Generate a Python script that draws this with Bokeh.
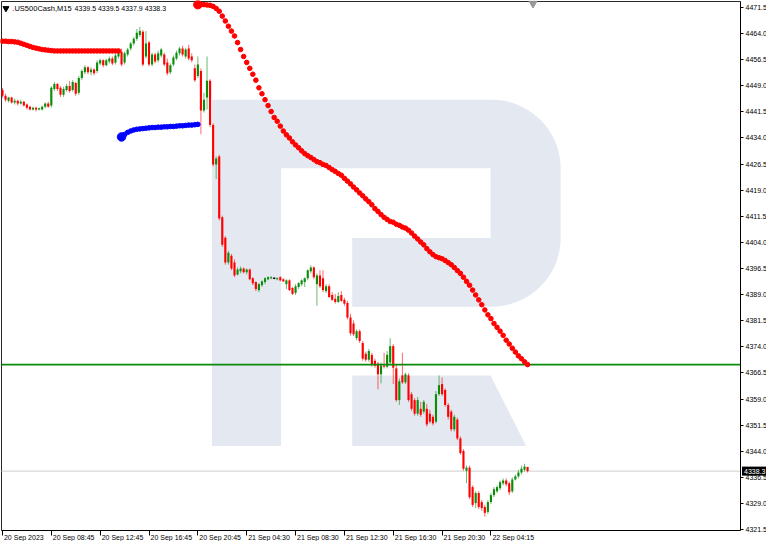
import math
from bokeh.plotting import figure
from bokeh.models import ColumnDataSource, FixedTicker, NumeralTickFormatter, Label
from bokeh.embed import file_html
from bokeh.resources import INLINE

# ---------------- data ----------------
symbol = ".US500Cash,M15"
header_values = "4339.5 4339.5 4337.9 4338.3"

time_labels = ["20 Sep 2023", "20 Sep 08:45", "20 Sep 12:45", "20 Sep 16:45", "20 Sep 20:45",
               "21 Sep 04:30", "21 Sep 08:30", "21 Sep 12:30", "21 Sep 16:30", "21 Sep 20:30",
               "22 Sep 04:15"]
time_label_bars = [0, 16, 32, 48, 64, 80, 96, 112, 128, 144, 160]

price_ticks = [4321.5, 4329.0, 4336.5, 4344.0, 4351.5, 4359.0, 4366.5, 4374.0, 4381.5, 4389.0,
               4396.5, 4404.0, 4411.5, 4419.0, 4426.5, 4434.0, 4441.5, 4449.0, 4456.5, 4464.0,
               4471.5]

opens = [
    4447.8, 4446.1, 4444.7, 4445.6, 4444.2, 4444.7, 4443.9, 4444.4, 4443.6, 4443.0,
    4442.2, 4442.7, 4442.2, 4442.2, 4443.0, 4443.9, 4443.3, 4448.1, 4449.5, 4448.4,
    4446.4, 4447.8, 4448.9, 4447.8, 4449.8, 4447.0, 4451.2, 4452.9, 4454.3, 4452.9,
    4453.7, 4453.2, 4455.4, 4456.3, 4454.9, 4456.0, 4456.8, 4455.7, 4457.4, 4458.8,
    4455.7, 4458.0, 4459.7, 4461.1, 4462.5, 4463.6, 4464.5, 4457.4, 4461.4, 4455.1,
    4458.0, 4456.3, 4457.7, 4458.0, 4455.7, 4452.9, 4455.1, 4456.8, 4458.3, 4459.7,
    4457.4, 4459.7, 4457.4, 4454.0, 4451.8, 4453.2, 4441.9, 4445.6, 4450.4, 4437.7,
    4426.4, 4428.7, 4411.2, 4405.3, 4398.2, 4400.2, 4398.2, 4394.8, 4395.7, 4396.5,
    4395.4, 4396.2, 4393.7, 4392.6, 4390.3, 4391.7, 4392.6, 4393.4, 4393.7, 4393.7,
    4393.4, 4394.0, 4393.4, 4392.0, 4393.1, 4390.9, 4389.5, 4391.2, 4392.0, 4392.6,
    4393.7, 4395.7, 4396.8, 4392.0, 4394.5, 4393.7, 4390.0, 4391.4, 4388.9, 4387.8,
    4386.9, 4388.9, 4387.5, 4386.6, 4382.4, 4380.7, 4376.5, 4378.5, 4375.1, 4372.0,
    4370.3, 4371.7, 4370.0, 4369.2, 4366.1, 4368.6, 4368.3, 4369.5, 4374.2, 4367.8,
    4358.7, 4365.8, 4363.8, 4365.8, 4360.4, 4358.7, 4354.8, 4356.2, 4355.4, 4356.2,
    4354.8, 4353.9, 4352.5, 4360.4, 4363.3, 4361.6, 4357.3, 4355.4, 4350.3, 4353.1,
    4347.7, 4344.1, 4338.4, 4339.3, 4333.7, 4329.1, 4332.0, 4329.4, 4328.0, 4326.6,
    4329.4, 4331.4, 4332.5, 4333.4, 4334.8, 4335.6, 4334.8, 4332.5, 4335.9, 4336.8,
    4337.9, 4338.7, 4339.5]

highs = [
    4448.4, 4446.7, 4445.8, 4445.8, 4445.3, 4445.0, 4445.0, 4444.7, 4443.9, 4443.3,
    4443.0, 4443.0, 4442.7, 4443.3, 4444.2, 4444.4, 4448.9, 4450.1, 4449.8, 4448.9,
    4448.7, 4449.5, 4450.4, 4450.6, 4450.1, 4451.8, 4453.7, 4454.9, 4454.6, 4454.3,
    4454.0, 4456.3, 4456.8, 4456.6, 4456.8, 4457.4, 4457.4, 4458.3, 4459.4, 4459.7,
    4458.8, 4459.9, 4461.6, 4463.0, 4465.3, 4465.9, 4465.0, 4464.7, 4461.9, 4458.5,
    4458.5, 4459.1, 4459.9, 4458.5, 4456.8, 4455.4, 4457.7, 4459.1, 4460.2, 4460.5,
    4459.9, 4460.8, 4458.3, 4455.1, 4457.4, 4454.0, 4447.0, 4457.4, 4450.9, 4438.2,
    4428.7, 4429.2, 4411.7, 4405.8, 4401.6, 4400.7, 4399.1, 4396.8, 4397.1, 4396.8,
    4396.5, 4396.5, 4394.0, 4392.8, 4392.3, 4393.1, 4394.0, 4394.3, 4394.3, 4394.0,
    4394.0, 4394.3, 4393.7, 4393.4, 4393.4, 4391.2, 4392.0, 4392.6, 4393.4, 4394.0,
    4396.2, 4397.4, 4397.1, 4395.1, 4396.0, 4396.0, 4392.0, 4392.0, 4389.7, 4389.2,
    4389.7, 4390.0, 4388.1, 4387.2, 4383.5, 4381.6, 4379.0, 4379.0, 4375.7, 4372.6,
    4373.4, 4372.3, 4370.6, 4369.7, 4369.5, 4372.3, 4372.8, 4376.5, 4374.8, 4368.9,
    4364.9, 4372.3, 4366.6, 4366.4, 4361.0, 4359.3, 4359.6, 4358.2, 4358.7, 4357.6,
    4355.9, 4354.5, 4361.3, 4365.8, 4365.2, 4362.1, 4357.9, 4355.9, 4354.5, 4353.7,
    4348.3, 4344.6, 4339.9, 4339.9, 4334.2, 4332.5, 4332.5, 4330.0, 4328.6, 4330.0,
    4332.0, 4333.7, 4334.2, 4335.6, 4336.2, 4336.2, 4335.3, 4336.5, 4337.3, 4338.7,
    4339.9, 4340.4, 4339.5]

lows = [
    4445.6, 4444.4, 4444.2, 4443.9, 4443.6, 4443.3, 4443.6, 4443.0, 4442.2, 4441.9,
    4441.9, 4441.6, 4441.9, 4441.9, 4442.5, 4442.7, 4442.7, 4447.5, 4447.5, 4445.8,
    4445.8, 4447.3, 4447.0, 4447.3, 4446.1, 4446.4, 4450.6, 4452.3, 4452.3, 4452.0,
    4452.0, 4452.6, 4454.9, 4454.3, 4454.6, 4455.4, 4454.9, 4455.1, 4456.8, 4454.6,
    4455.1, 4457.4, 4459.1, 4460.5, 4461.9, 4463.0, 4454.6, 4456.8, 4454.6, 4454.6,
    4455.4, 4455.7, 4457.1, 4454.6, 4452.0, 4452.3, 4454.6, 4456.3, 4457.7, 4457.4,
    4456.8, 4456.3, 4455.7, 4450.1, 4451.2, 4435.1, 4441.3, 4442.2, 4437.1, 4425.8,
    4422.2, 4410.3, 4402.7, 4397.6, 4397.6, 4396.0, 4394.0, 4394.5, 4395.1, 4395.1,
    4394.8, 4393.1, 4391.7, 4390.0, 4389.7, 4391.2, 4392.0, 4393.1, 4393.4, 4393.4,
    4393.1, 4392.8, 4392.6, 4390.6, 4390.0, 4388.9, 4388.9, 4390.6, 4391.4, 4391.2,
    4393.1, 4395.1, 4393.4, 4385.8, 4390.9, 4389.7, 4389.5, 4388.1, 4387.2, 4386.4,
    4386.6, 4386.9, 4385.8, 4381.9, 4377.3, 4377.1, 4375.9, 4375.1, 4370.0, 4369.7,
    4369.7, 4368.3, 4368.0, 4361.8, 4363.5, 4367.8, 4367.8, 4368.6, 4363.3, 4358.2,
    4357.3, 4363.3, 4363.3, 4358.2, 4355.6, 4354.2, 4354.2, 4353.9, 4354.8, 4351.1,
    4352.0, 4351.4, 4352.0, 4359.9, 4359.9, 4356.8, 4353.1, 4349.7, 4349.7, 4347.2,
    4343.0, 4338.4, 4334.8, 4330.3, 4328.0, 4327.7, 4327.4, 4326.9, 4325.2, 4326.0,
    4328.9, 4330.8, 4332.0, 4332.8, 4334.2, 4333.9, 4331.4, 4332.0, 4335.6, 4336.2,
    4337.3, 4338.2, 4337.9]

closes = [
    4446.1, 4445.0, 4445.6, 4444.2, 4444.7, 4443.9, 4444.4, 4443.3, 4442.7, 4442.2,
    4442.7, 4442.2, 4442.5, 4443.0, 4443.9, 4443.0, 4448.4, 4449.5, 4448.1, 4446.4,
    4448.1, 4448.9, 4447.5, 4450.1, 4446.7, 4451.2, 4453.2, 4454.3, 4452.9, 4453.7,
    4452.6, 4455.7, 4456.3, 4454.9, 4456.3, 4456.8, 4455.4, 4457.7, 4458.8, 4455.1,
    4458.3, 4459.4, 4461.1, 4462.5, 4464.2, 4464.7, 4455.1, 4461.1, 4455.1, 4458.0,
    4456.0, 4458.3, 4459.4, 4455.1, 4452.6, 4454.9, 4457.1, 4458.5, 4459.7, 4458.0,
    4459.4, 4456.8, 4456.3, 4450.6, 4455.1, 4441.9, 4445.0, 4450.4, 4437.7, 4426.4,
    4428.1, 4410.9, 4403.3, 4398.2, 4401.0, 4396.5, 4394.5, 4396.2, 4396.5, 4395.4,
    4396.2, 4393.4, 4392.3, 4390.6, 4392.0, 4392.8, 4393.7, 4394.0, 4394.0, 4393.7,
    4393.7, 4393.1, 4392.8, 4393.1, 4390.3, 4389.2, 4391.4, 4392.3, 4393.1, 4393.7,
    4396.0, 4396.8, 4394.0, 4394.5, 4391.4, 4390.3, 4391.4, 4388.3, 4387.5, 4386.9,
    4388.6, 4387.2, 4386.4, 4382.4, 4377.9, 4377.6, 4378.5, 4375.7, 4370.6, 4370.3,
    4372.8, 4368.9, 4368.6, 4366.1, 4368.6, 4368.3, 4371.7, 4374.2, 4368.0, 4358.7,
    4364.1, 4363.8, 4366.1, 4358.7, 4356.2, 4354.8, 4358.7, 4354.5, 4358.2, 4351.7,
    4352.5, 4352.0, 4360.4, 4363.0, 4360.4, 4357.3, 4353.9, 4350.3, 4353.9, 4347.7,
    4343.5, 4339.0, 4339.3, 4330.8, 4328.6, 4332.0, 4328.0, 4327.7, 4326.3, 4329.4,
    4331.4, 4333.1, 4333.7, 4335.1, 4335.6, 4334.5, 4332.2, 4335.9, 4336.8, 4337.9,
    4339.0, 4339.6, 4338.3]

# trend-stop indicator (dots): red above price, blue below price
trend_red_left = [
    4461.8, 4461.8, 4461.7, 4461.7, 4461.6, 4461.5, 4461.2, 4460.9, 4460.6, 4460.3,
    4460.0, 4459.8, 4459.6, 4459.4, 4459.3, 4459.2, 4459.1, 4459.0, 4459.0, 4459.0,
    4459.0, 4459.0, 4459.0, 4459.0, 4459.0, 4459.0, 4459.0, 4459.0, 4459.0, 4459.0,
    4459.0, 4459.0, 4459.0, 4459.0, 4459.0, 4459.0, 4459.0, 4459.0, 4459.0]
trend_red_left_start = 0

trend_blue = [
    4434.3, 4435.0, 4435.6, 4436.0, 4436.3, 4436.5, 4436.6, 4436.7, 4436.8, 4436.9,
    4437.0, 4437.0, 4437.1, 4437.1, 4437.2, 4437.2, 4437.3, 4437.3, 4437.4, 4437.5,
    4437.5, 4437.6, 4437.7, 4437.7, 4437.8, 4437.9]
trend_blue_start = 39

trend_red_right = [
    4472.3, 4472.3, 4472.3, 4472.2, 4472.1, 4471.8, 4471.2, 4470.4, 4469.0, 4467.6,
    4466.1, 4464.7, 4463.3, 4461.4, 4459.4, 4457.4, 4455.7, 4454.0, 4452.3, 4450.6,
    4448.4, 4446.7, 4445.0, 4443.3, 4441.6, 4439.9, 4438.8, 4437.4, 4436.0, 4434.9,
    4434.0, 4432.9, 4432.0, 4431.2, 4430.3, 4429.5, 4428.9, 4428.4, 4427.8, 4427.2,
    4426.9, 4426.4, 4426.1, 4425.5, 4424.9, 4424.4, 4423.8, 4423.3, 4422.4, 4421.6,
    4420.8, 4419.9, 4419.1, 4418.2, 4417.4, 4416.5, 4415.7, 4414.8, 4413.7, 4412.9,
    4412.0, 4411.2, 4410.6, 4410.0, 4409.8, 4409.2, 4408.9, 4408.4, 4408.1, 4407.5,
    4406.7, 4405.8, 4405.0, 4404.1, 4403.3, 4402.2, 4401.3, 4400.5, 4399.9, 4399.6,
    4399.3, 4398.8, 4398.2, 4397.6, 4396.8, 4395.9, 4395.1, 4394.0, 4392.8, 4391.7,
    4390.3, 4388.9, 4387.5, 4386.1, 4384.6, 4383.2, 4382.1, 4380.7, 4379.6, 4378.5,
    4377.3, 4375.9, 4374.8, 4373.6, 4372.5, 4371.4, 4370.6, 4369.7, 4368.9]
trend_red_right_start = 64

level_line = 4368.9
bid_price = 4338.3
bid_text = "4338.3"

# ---------------- layout helpers ----------------
# chart area (bars and price) in data units
X0, X1 = -0.32, 241.75
Y0, Y1 = 4321.24, 4473.2
# reference picture scale (pixels per bar / per point) used for decorations
REF_DX, REF_DY = 3.09, 3.547

W, H = 766, 541
CHART_L, CHART_R, CHART_T, CHART_B = 1, 740, 1, 530   # chart box inside the frame, px
PPX = (CHART_R - CHART_L) / (X1 - X0)
PPY = (CHART_B - CHART_T) / (Y1 - Y0)
FX0 = X0 - CHART_L / PPX
FX1 = X1 + (W - CHART_R) / PPX
FY1 = Y1 + CHART_T / PPY
FY0 = Y0 - (H - CHART_B) / PPY


def rx(px):
    return X0 + (px - 2) / REF_DX


def ry(py):
    return Y1 - (py - 2) / REF_DY


FONT = "Liberation Sans"
BULL = "#0b8c0b"
BEAR = "#ff0000"
BORDER = "#2a2a2a"

p = figure(width=W, height=H, min_border=0,
           x_range=(FX0, FX1), y_range=(FY0, FY1), y_axis_location="right",
           output_backend="svg", toolbar_location=None,
           background_fill_color="white", border_fill_color="white",
           outline_line_color=None)
p.xgrid.grid_line_color = None
p.ygrid.grid_line_color = None

# ---------------- watermark ----------------
def arc(cx, cy, r, a0, a1, n=14):
    pts = []
    for k in range(n + 1):
        a = math.radians(a0 + (a1 - a0) * k / n)
        pts.append((cx + r * math.cos(a), cy + r * math.sin(a)))
    return pts

stem = [(215, 102), (285, 102), (285, 455), (215, 455)]
bowl = ([(285, 102)] + arc(498, 172, 70, -90, 0) + arc(498, 243, 70, 0, 90)
        + [(357, 313), (357, 243), (497, 243), (497, 172), (285, 172)])
leg = [(357, 383), (497, 383), (533, 455), (357, 455)]
shapes = [stem, bowl, leg]
p.patches(xs=[[rx(a) for a, b in s] for s in shapes],
          ys=[[ry(b) for a, b in s] for s in shapes],
          fill_color="#e4e9f1", line_color=None)

# ---------------- chart border (left / top) ----------------
p.segment(x0=[X0, X0], y0=[Y0, Y1], x1=[X0, X1], y1=[Y1, Y1], line_color=BORDER, line_width=1)

# ---------------- horizontal lines ----------------
p.segment(x0=[X0], x1=[X1], y0=[bid_price], y1=[bid_price], line_color="#cfcfcf", line_width=1)

# ---------------- candles ----------------
n = min(len(opens), len(highs), len(lows), len(closes))
idx = list(range(n))
colors = []
for o, c in zip(opens[:n], closes[:n]):
    colors.append(BULL if c > o else (BEAR if c < o else "#000000"))
src = ColumnDataSource(dict(
    x=idx, o=opens[:n], h=highs[:n], l=lows[:n], c=closes[:n],
    top=[max(o, c) for o, c in zip(opens[:n], closes[:n])],
    bot=[min(o, c) for o, c in zip(opens[:n], closes[:n])],
    color=colors))
p.segment(x0="x", y0="h", x1="x", y1="l", line_color="color", line_width=1, line_alpha=0.6, source=src)
p.vbar(x="x", width=0.7, top="top", bottom="bot", fill_color="color", line_color=None, source=src)
doji = [i for i in idx if opens[i] == closes[i]]
if doji:
    p.segment(x0=[i - 0.4 for i in doji], x1=[i + 0.4 for i in doji],
              y0=[opens[i] for i in doji], y1=[opens[i] for i in doji],
              line_color="#000000", line_width=1.2)

p.segment(x0=[X0], x1=[X1], y0=[level_line], y1=[level_line], line_color="#0a8a0a", line_width=1.8)

# ---------------- trend dots ----------------
DOT = 4.6
p.scatter(x=[trend_red_left_start + k for k in range(len(trend_red_left))], y=trend_red_left,
          size=DOT, fill_color=BEAR, line_color=BEAR)
p.scatter(x=[trend_blue_start + k for k in range(len(trend_blue))], y=trend_blue,
          size=DOT, fill_color="#0000ff", line_color="#0000ff")
p.scatter(x=[trend_red_right_start + k for k in range(len(trend_red_right))], y=trend_red_right,
          size=DOT, fill_color=BEAR, line_color=BEAR)
p.scatter(x=[trend_blue_start], y=[trend_blue[0]], size=8.5, fill_color="#0000ff", line_color="#0000ff")
p.scatter(x=[trend_red_right_start], y=[trend_red_right[0]], size=8.5, fill_color=BEAR, line_color=BEAR)

# chart-shift marker at top
p.scatter(x=[rx(540)], y=[ry(4)], marker="inverted_triangle", size=8,
          fill_color="#9a9a9a", line_color="#9a9a9a")

# ---------------- axes (drawn at the chart edges) ----------------
yax = p.yaxis[0]
yax.fixed_location = X1
yax.bounds = (Y0, Y1)
yax.ticker = FixedTicker(ticks=price_ticks)
yax.formatter = NumeralTickFormatter(format="0.0")
yax.major_label_text_font = FONT
yax.major_label_text_font_size = "7px"
yax.major_label_text_color = "#000000"
yax.major_tick_out = 3
yax.major_tick_in = 0
yax.minor_tick_out = 0
yax.minor_tick_in = 0
yax.major_label_standoff = 2
yax.axis_line_color = "#000000"
yax.major_tick_line_color = "#000000"

xax = p.xaxis[0]
xax.fixed_location = Y0
xax.bounds = (X0, X1)
xax.ticker = FixedTicker(ticks=time_label_bars)
xax.major_label_overrides = {b: "" for b in time_label_bars}
xax.major_label_text_font_size = "1px"
xax.major_label_standoff = 0
xax.major_tick_out = 5
xax.major_tick_in = 0
xax.minor_tick_out = 0
xax.minor_tick_in = 0
xax.axis_line_color = "#000000"
xax.major_tick_line_color = "#000000"

for b, t in zip(time_label_bars, time_labels):
    p.add_layout(Label(x=b, y=ry(548), text=t, x_offset=1.5, text_align="left",
                       text_baseline="middle", text_font=FONT, text_font_size="7px",
                       text_color="#000000"))

# current price box on the price scale
p.add_layout(Label(x=rx(751.5), y=bid_price, text=bid_text, text_align="left",
                   text_baseline="middle", text_font=FONT, text_font_size="7px",
                   text_color="#ffffff", background_fill_color="#000000", padding=2))

# ---------------- header ----------------
p.scatter(x=[rx(6.5)], y=[ry(9)], marker="inverted_triangle", size=6,
          fill_color="#000000", line_color="#000000")
p.add_layout(Label(x=rx(13), y=ry(9.5), text=symbol, text_align="left", text_baseline="middle",
                   text_font=FONT, text_font_size="7.5px", text_color="#000000"))
p.add_layout(Label(x=rx(76), y=ry(9.5), text=header_values, text_align="left",
                   text_baseline="middle", text_font=FONT, text_font_size="7px",
                   text_color="#000000"))

open("out.html", "w").write(file_html(p, INLINE))
